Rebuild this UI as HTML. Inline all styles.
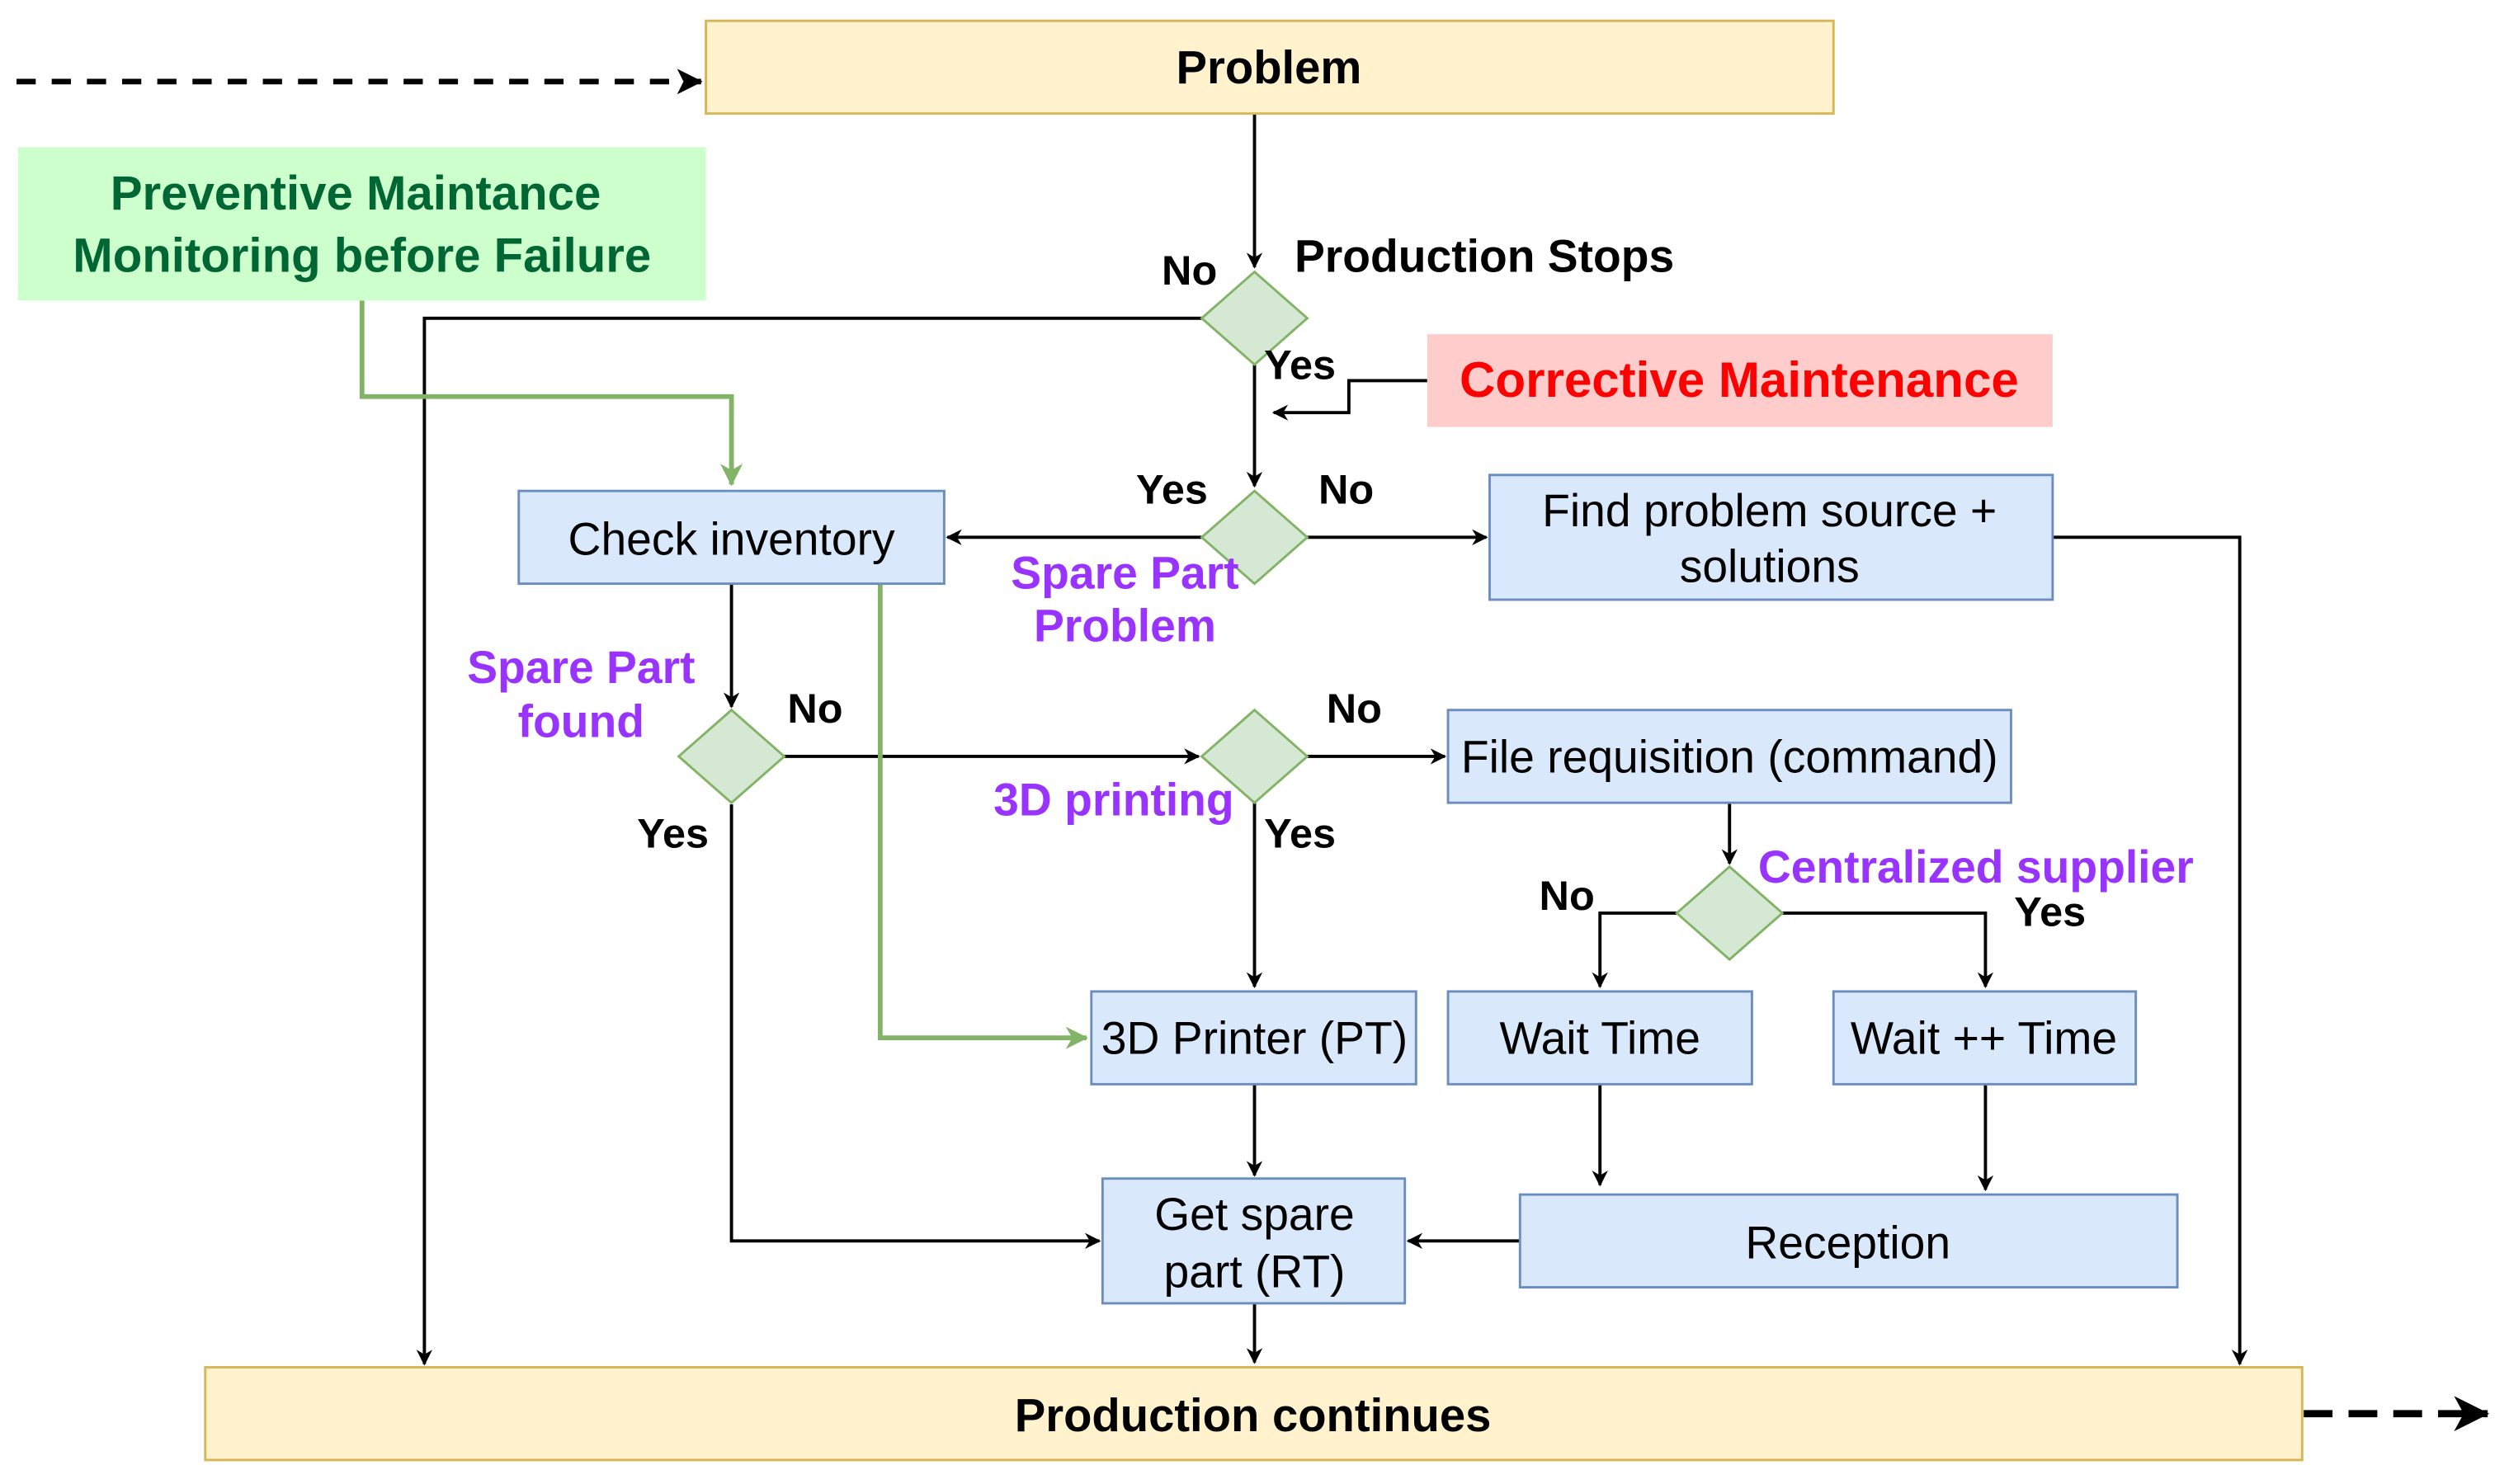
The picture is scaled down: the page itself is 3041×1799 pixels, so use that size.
<!DOCTYPE html>
<html><head><meta charset="utf-8"><style>html,body{margin:0;padding:0;background:#fff}svg{display:block}</style></head>
<body>
<svg width="3041" height="1799" viewBox="0 0 1568 928" xmlns="http://www.w3.org/2000/svg" font-family="Liberation Sans, sans-serif">
<defs>
<marker id="a" markerWidth="10" markerHeight="10" refX="9" refY="5" orient="auto" markerUnits="userSpaceOnUse"><path d="M0,0 L10,5 L0,10 L3,5z" fill="#000"/></marker>
<marker id="a2" markerWidth="16" markerHeight="16" refX="15" refY="8" orient="auto" markerUnits="userSpaceOnUse"><path d="M0,0 L16,8 L0,16 L4,8z" fill="#000"/></marker>
<marker id="g" markerWidth="14" markerHeight="14" refX="13" refY="7" orient="auto" markerUnits="userSpaceOnUse"><path d="M0,0 L14,7 L0,14 L4,7z" fill="#82b366"/></marker>
<marker id="b" markerWidth="22" markerHeight="22" refX="21" refY="11" orient="auto" markerUnits="userSpaceOnUse"><path d="M0,0 L22,11 L0,22 L6,11z" fill="#000"/></marker>
</defs>
<g fill="none" stroke="#000" stroke-width="2">
<path d="M10,51 H438" stroke-dasharray="12,10" stroke-width="3.5" marker-end="url(#a2)"/>
<path d="M784,71 V167" marker-end="url(#a)"/>
<path d="M751,199 H265 V853" marker-end="url(#a)"/>
<path d="M784,228 V304" marker-end="url(#a)"/>
<path d="M892,238 H843 V258 H796" marker-end="url(#a)"/>
<path d="M751,336 H592" marker-end="url(#a)"/>
<path d="M817,336 H929" marker-end="url(#a)"/>
<path d="M1283,336 H1400 V853" marker-end="url(#a)"/>
<path d="M457,365 V442" marker-end="url(#a)"/>
<path d="M490,473 H749" marker-end="url(#a)"/>
<path d="M817,473 H903" marker-end="url(#a)"/>
<path d="M1081,502 V540" marker-end="url(#a)"/>
<path d="M1048,571 H1000 V617" marker-end="url(#a)"/>
<path d="M1114,571 H1241 V617" marker-end="url(#a)"/>
<path d="M784,502 V617" marker-end="url(#a)"/>
<path d="M784,678 V735" marker-end="url(#a)"/>
<path d="M457,503 V776 H687" marker-end="url(#a)"/>
<path d="M950,776 H880" marker-end="url(#a)"/>
<path d="M1000,678 V741" marker-end="url(#a)"/>
<path d="M1241,678 V744" marker-end="url(#a)"/>
<path d="M784,815 V852" marker-end="url(#a)"/>
<path d="M1440,884 H1555" stroke-dasharray="18,10" stroke-width="4.5" marker-end="url(#b)"/>
</g>
<g fill="none" stroke="#82b366" stroke-width="3">
<path d="M226,188 V248 H457 V303" marker-end="url(#g)"/>
<path d="M550,365 V649 H679" marker-end="url(#g)"/>
</g>
<rect x="441" y="13" width="705" height="58" fill="#fff2cc" stroke="#d6b656" stroke-width="1.5"/>
<rect x="128" y="855" width="1311" height="58" fill="#fff2cc" stroke="#d6b656" stroke-width="1.5"/>
<rect x="11" y="92" width="430" height="96" fill="#ccffcc"/>
<rect x="892" y="209" width="391" height="58" fill="#ffcccc"/>
<g fill="#dae8fc" stroke="#6c8ebf" stroke-width="1.5">
<rect x="324" y="307" width="266" height="58"/>
<rect x="931" y="297" width="352" height="78"/>
<rect x="905" y="444" width="352" height="58"/>
<rect x="905" y="620" width="190" height="58"/>
<rect x="1146" y="620" width="189" height="58"/>
<rect x="682" y="620" width="203" height="58"/>
<rect x="689" y="737" width="189" height="78"/>
<rect x="950" y="747" width="411" height="58"/>
</g>
<g fill="#d5e8d4" stroke="#82b366" stroke-width="1.5">
<path d="M784,170 L817,199 L784,228 L751,199z"/>
<path d="M784,307 L817,336 L784,365 L751,336z"/>
<path d="M457,444 L490,473 L457,502 L424,473z"/>
<path d="M784,444 L817,473 L784,502 L751,473z"/>
<path d="M1081,542 L1114,571 L1081,600 L1048,571z"/>
</g>
<g font-size="28.5" text-anchor="middle" fill="#000">
<text x="793" y="52" font-weight="bold" font-size="29">Problem</text>
<text x="783" y="895" font-weight="bold" font-size="29">Production continues</text>
<text x="222" y="131" font-weight="bold" font-size="30" fill="#006633">Preventive Maintance</text>
<text x="226" y="170" font-weight="bold" font-size="30" fill="#006633">Monitoring before Failure</text>
<text x="1087" y="248" font-weight="bold" font-size="31" fill="#ff0000">Corrective Maintenance</text>
<text x="457" y="347">Check inventory</text>
<text x="1106" y="329">Find problem source +</text>
<text x="1106" y="364">solutions</text>
<text x="1081" y="483">File requisition (command)</text>
<text x="1000" y="659">Wait Time</text>
<text x="1240" y="659">Wait ++ Time</text>
<text x="784" y="659">3D Printer (PT)</text>
<text x="784" y="769">Get spare</text>
<text x="784" y="805">part (RT)</text>
<text x="1155" y="787">Reception</text>
</g>
<g font-size="26" font-weight="bold" fill="#000">
<text x="726" y="178">No</text>
<text x="809" y="170" font-size="28.5">Production Stops</text>
<text x="790" y="237">Yes</text>
<text x="710" y="315">Yes</text>
<text x="824" y="315">No</text>
<text x="492" y="452">No</text>
<text x="398" y="530">Yes</text>
<text x="829" y="452">No</text>
<text x="790" y="530">Yes</text>
<text x="962" y="569">No</text>
<text x="1259" y="579">Yes</text>
</g>
<g font-size="28.5" font-weight="bold" fill="#9933ff" text-anchor="middle">
<text x="703" y="368">Spare Part</text>
<text x="703" y="401">Problem</text>
<text x="363" y="427">Spare Part</text>
<text x="363" y="461">found</text>
<text x="696" y="510">3D printing</text>
<text x="1235" y="552">Centralized supplier</text>
</g>
</svg>
</body></html>
